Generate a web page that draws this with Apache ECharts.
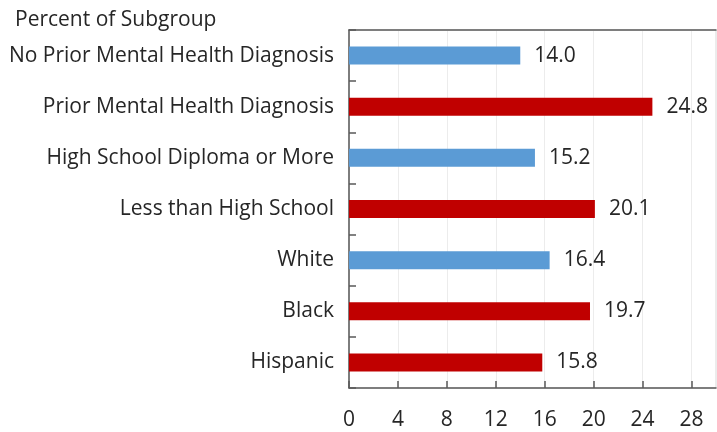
<!DOCTYPE html>
<html>
<head>
<meta charset="utf-8">
<script src="https://cdn.jsdelivr.net/npm/echarts@6/dist/echarts.min.js"></script>
<style>html,body{margin:0;padding:0;background:#fff}#c{width:717px;height:432px}</style>
</head>
<body>
<div id="c"></div>
<script>
const categories = ['No Prior Mental Health Diagnosis','Prior Mental Health Diagnosis','High School Diploma or More','Less than High School','White','Black','Hispanic'];
const values = [14.0, 24.8, 15.2, 20.1, 16.4, 19.7, 15.8];
const groups = ['base','risk','base','risk','base','risk','risk'];
const axisTitle = 'Percent of Subgroup';

const groupColor = {base:'#5B9BD5', risk:'#C00000'};
const FONT = '"Open Sans", sans-serif';
const FS = 21;
const chart = echarts.init(document.getElementById('c'), null, {renderer:'canvas'});
chart.setOption({
  animation:false,
  backgroundColor:'#fff',
  title:{text:axisTitle,left:10,top:5,textStyle:{fontFamily:FONT,fontSize:FS,fontWeight:'normal',color:'#262626'}},
  grid:{left:349,top:30,right:1,bottom:44,show:true,borderColor:'#d9d9d9',borderWidth:1},
  xAxis:[{
    type:'value',min:0,max:30,interval:4,position:'bottom',
    axisLine:{show:true,lineStyle:{color:'#595959',width:1.5}},
    axisTick:{show:true,inside:true,length:7,lineStyle:{color:'#595959',width:1.5}},
    axisLabel:{showMaxLabel:false,margin:22,fontFamily:FONT,fontSize:FS,color:'#262626'},
    splitLine:{show:true,lineStyle:{color:'#ececec',width:1}}
  },{
    type:'value',min:0,max:30,interval:4,position:'top',
    axisLine:{show:true,onZero:false,lineStyle:{color:'#595959',width:1.5}},
    axisTick:{show:false},axisLabel:{show:false},splitLine:{show:false}
  }],
  yAxis:{
    type:'category',data:categories,inverse:true,
    axisLine:{show:true,lineStyle:{color:'#595959',width:1.5}},
    axisTick:{show:true,inside:true,length:7,lineStyle:{color:'#595959',width:1.5}},
    axisLabel:{margin:15,fontFamily:FONT,fontSize:FS,color:'#262626'}
  },
  series:[{
    type:'bar',xAxisIndex:0,barWidth:18,
    data:values.map((v,i)=>({value:v,itemStyle:{color:groupColor[groups[i]]}})),
    label:{show:true,position:'right',distance:14,fontFamily:FONT,fontSize:FS,color:'#262626',formatter:p=>p.value.toFixed(1)}
  }]
});
</script>
</body>
</html>
